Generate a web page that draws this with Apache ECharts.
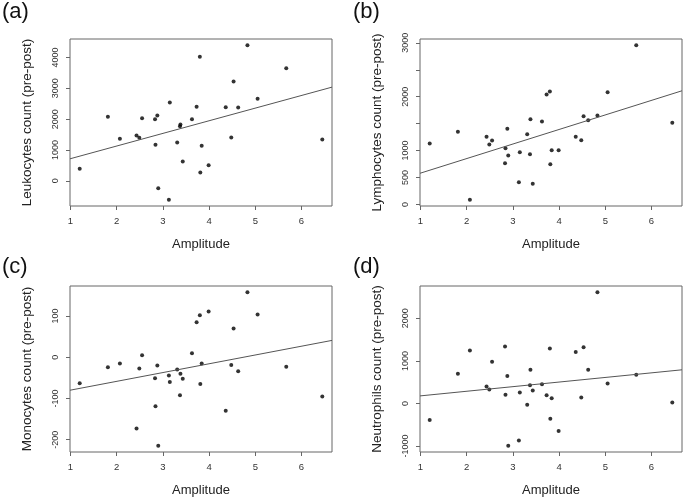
<!DOCTYPE html>
<html>
<head>
<meta charset="utf-8">
<script src="https://cdn.jsdelivr.net/npm/echarts@6/dist/echarts.min.js"></script>
<style>
html,body{margin:0;padding:0;background:#fff;}
#chart{width:685px;height:502px;}
</style>
</head>
<body>
<div id="chart"></div>
<script>
// Shared x values (Amplitude)
var amplitude = [1.20, 1.81, 2.07, 2.43, 2.49, 2.55, 2.83, 2.84, 2.88, 2.90, 3.13, 3.15, 3.31, 3.37, 3.38, 3.43, 3.63, 3.73, 3.80, 3.81, 3.84, 3.99, 4.36, 4.48, 4.53, 4.63, 4.83, 5.05, 5.67, 6.45];

var leukocytes = [389, 2076, 1362, 1470, 1395, 2032, 2000, 1168, 2119, -238, -616, 2541, 1243, 1773, 1827, 627, 2000, 2400, 4022, 270, 1135, 508, 2389, 1405, 3222, 2378, 4400, 2659, 3654, 1340];
var lymphocytes = [1132, 1348, 87, 1255, 1113, 1187, 767, 1045, 1404, 909, 414, 971, 1305, 934, 1583, 383, 1540, 2041, 2096, 748, 1008, 1008, 1255, 1193, 1639, 1565, 1651, 2084, 2956, 1515];
var monocytes = [-63, -24, -15, -173, -27, 5, -51, -119, -20, -215, -44, -60, -30, -92, -40, -52, 10, 85, 102, -65, -15, 111, -130, -19, 70, -34, 158, 104, -23, -95];
var neutrophils = [-389, 700, 1245, 397, 327, 981, 1339, 202, 646, -996, -872, 257, -31, 428, 794, 304, 451, 195, 1292, -358, 125, -646, 1206, 140, 1323, 794, 2615, 467, 677, 23];

var xTicks = [1, 2, 3, 4, 5, 6];
var yTicksA = [0, 1000, 2000, 3000, 4000];
var yTicksB = [0, 500, 1000, 1500, 2000, 2500, 3000];
var yLabelsB = [0, 500, 1000, 2000, 3000];
var yTicksC = [-200, -100, 0, 100];
var yTicksD = [-1000, 0, 1000, 2000];

var panelLetters = ['(a)', '(b)', '(c)', '(d)'];
var yTitles = ['Leukocytes count (pre-post)', 'Lymphocytes count (pre-post)', 'Monocytes count (pre-post)', 'Neutrophils count (pre-post)'];
var xTitle = 'Amplitude';

var panels = [
  {y: leukocytes, ticks: yTicksA, labels: yTicksA},
  {y: lymphocytes, ticks: yTicksB, labels: yLabelsB},
  {y: monocytes, ticks: yTicksC, labels: yTicksC},
  {y: neutrophils, ticks: yTicksD, labels: yTicksD}
];

function padRange(arr) {
  var mn = Math.min.apply(null, arr), mx = Math.max.apply(null, arr);
  var r = mx - mn;
  return [mn - 0.04 * r, mx + 0.04 * r];
}
function fit(xs, ys) {
  var n = xs.length, sx = 0, sy = 0, sxx = 0, sxy = 0;
  for (var i = 0; i < n; i++) { sx += xs[i]; sy += ys[i]; sxx += xs[i] * xs[i]; sxy += xs[i] * ys[i]; }
  var b = (n * sxy - sx * sy) / (n * sxx - sx * sx);
  var a = (sy - b * sx) / n;
  return [a, b];
}
function plain(v) { return String(Math.round(v)); }

var grids = [
  {left: 70, top: 39, width: 262, height: 167},
  {left: 420, top: 39, width: 262, height: 167},
  {left: 70, top: 286, width: 262, height: 166},
  {left: 420, top: 286, width: 262, height: 166}
];

var FONT = '"Liberation Sans", Arial, sans-serif';
var AX = '#666';
var xR = padRange(amplitude);

var option = {
  animation: false,
  backgroundColor: '#fff',
  grid: grids.map(function (g) {
    return Object.assign({show: true, borderColor: AX, borderWidth: 1, backgroundColor: 'transparent', containLabel: false}, g);
  }),
  xAxis: [], yAxis: [], series: [],
  graphic: []
};

panels.forEach(function (p, i) {
  var yR = padRange(p.y);
  option.xAxis.push({
    type: 'value', gridIndex: i, min: xR[0], max: xR[1], position: 'bottom',
    name: xTitle, nameLocation: 'middle', nameGap: 32,
    nameTextStyle: {fontFamily: FONT, fontSize: 13, color: '#222'},
    axisLine: {show: false, onZero: false},
    axisTick: {show: true, length: 4, lineStyle: {color: AX}, customValues: xTicks},
    axisLabel: {show: true, margin: 10, fontFamily: FONT, fontSize: 9.5, color: '#333', customValues: xTicks, formatter: plain},
    splitLine: {show: false}
  });
  option.yAxis.push({
    type: 'value', gridIndex: i, min: yR[0], max: yR[1], position: 'left',
    name: yTitles[i], nameLocation: 'middle', nameGap: 36,
    nameTextStyle: {fontFamily: FONT, fontSize: 13.5, color: '#222'},
    axisLine: {show: false, onZero: false},
    axisTick: {show: true, length: 4, lineStyle: {color: AX}, customValues: p.ticks},
    axisLabel: {show: true, rotate: 90, margin: 10, fontFamily: FONT, fontSize: 9, color: '#333', customValues: p.labels, formatter: plain},
    splitLine: {show: false}
  });
  var pts = amplitude.map(function (x, k) { return [x, p.y[k]]; });
  option.series.push({
    type: 'scatter', xAxisIndex: i, yAxisIndex: i, data: pts,
    symbol: 'circle', symbolSize: 4, itemStyle: {color: '#000'}, silent: true
  });
  var ab = fit(amplitude, p.y);
  option.series.push({
    type: 'line', xAxisIndex: i, yAxisIndex: i, symbol: 'none', silent: true,
    data: [[xR[0], ab[0] + ab[1] * xR[0]], [xR[1], ab[0] + ab[1] * xR[1]]],
    lineStyle: {color: '#555', width: 1}
  });
  option.graphic.push({
    type: 'text', left: (i % 2 === 0) ? 2 : 353, top: (i < 2) ? 1 : 256,
    style: {text: panelLetters[i], fontFamily: FONT, fontSize: 22, fill: '#111'}
  });
});

var chart = echarts.init(document.getElementById('chart'), null, {renderer: 'canvas'});
chart.setOption(option);
</script>
</body>
</html>
